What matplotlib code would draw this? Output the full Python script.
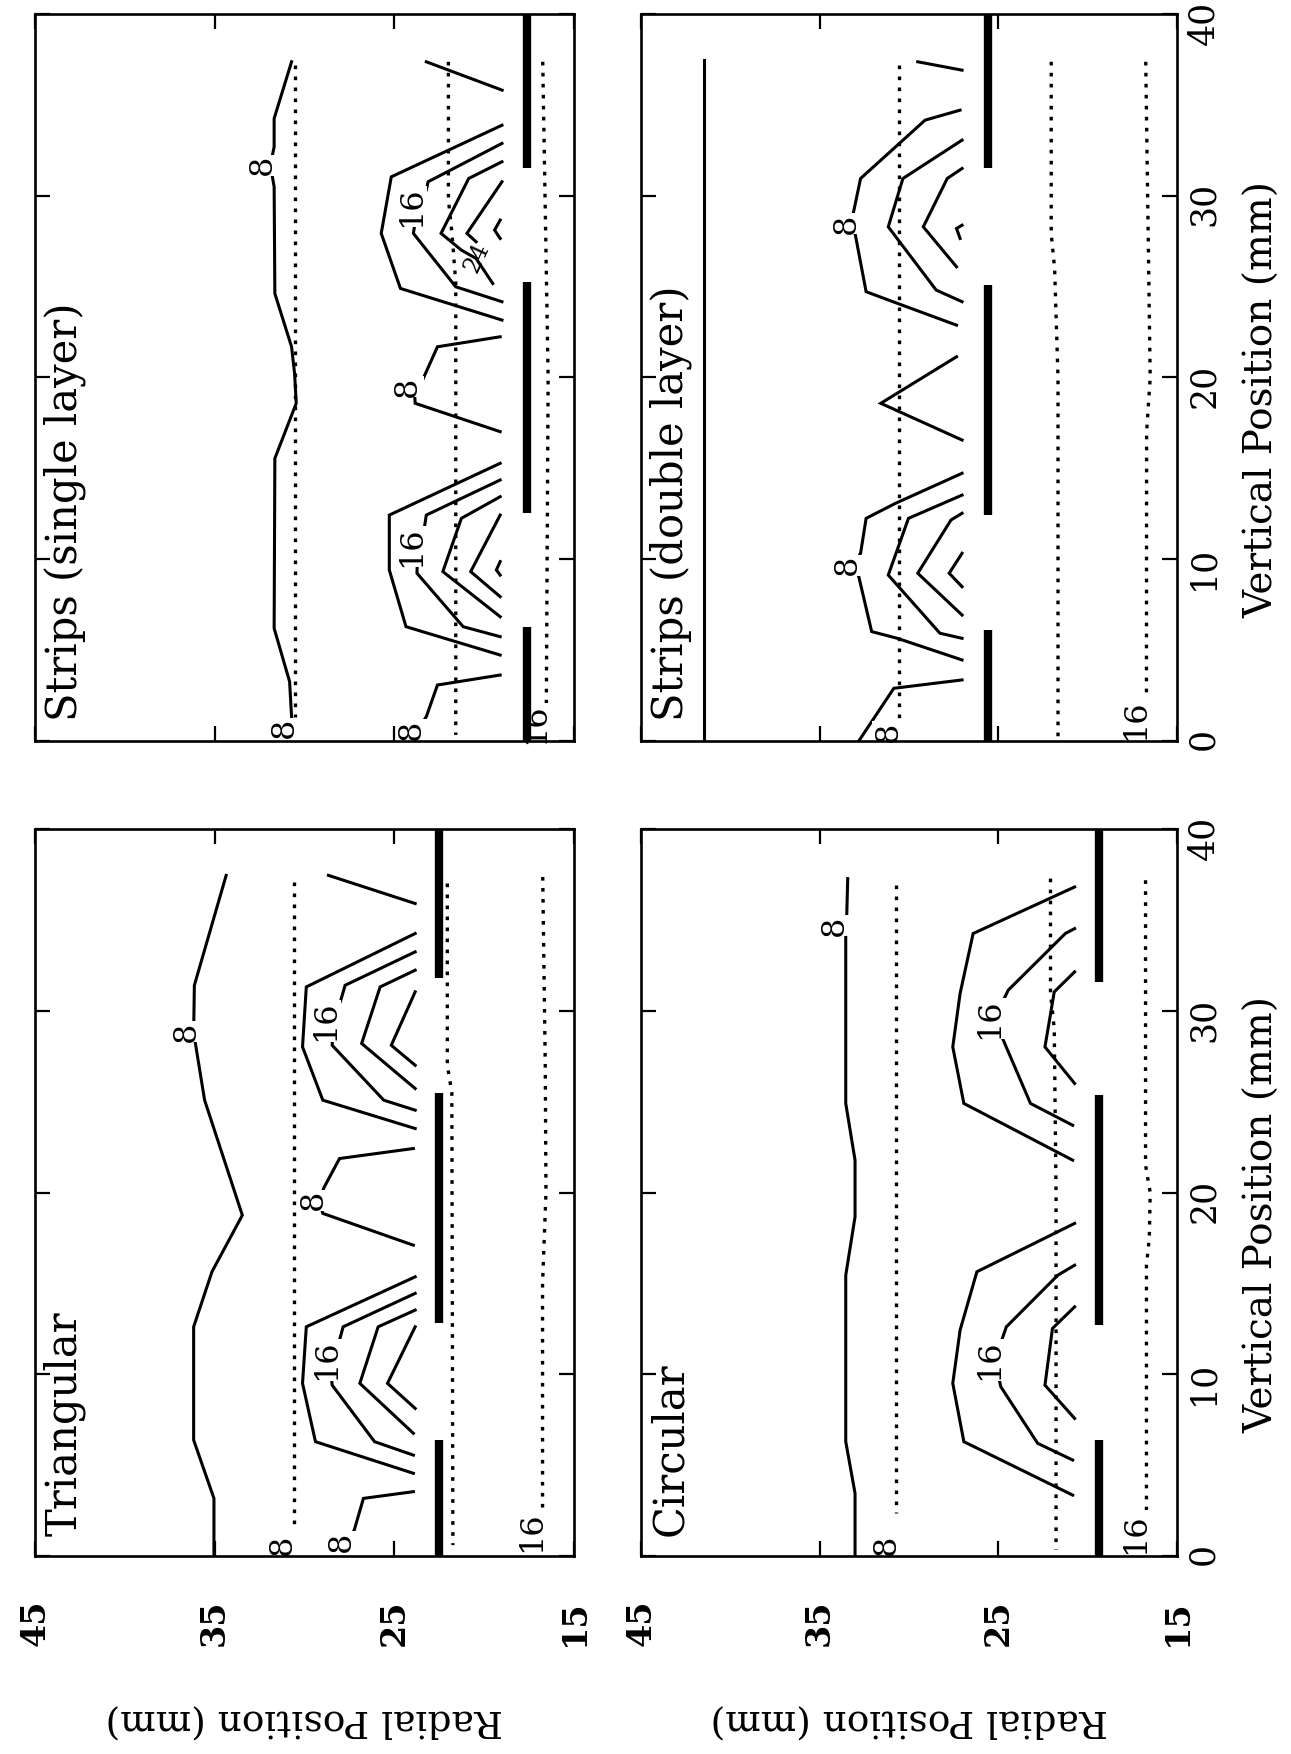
import matplotlib
matplotlib.use("Agg")
import matplotlib.pyplot as plt

plt.rcParams['font.family'] = ['DejaVu Serif']

# ---------------- data (vertical mm, radial mm) ----------------
RADIAL_TICKS = [45, 35, 25, 15]
VERTICAL_TICKS = [0, 10, 20, 30, 40]
RADIAL_LABEL = "Radial Position (mm)"
VERTICAL_LABEL = "Vertical Position (mm)"

# Triangular
TRI_TITLE = "Triangular"
TRI_SOLID = [
    [(37.45, 34.36), (31.4, 36.13), (28.8, 36.17), (25.08, 35.56), (18.75, 33.46), (15.64, 35.15),
     (12.61, 36.17), (6.38, 36.17), (3.17, 35.04), (0.0, 35.04)],
    [(37.45, 28.67), (35.9, 23.84)],
    [(34.25, 23.84), (31.31, 29.9), (28.01, 30.11), (25.08, 28.98), (23.52, 23.84)],
    [(33.24, 23.84), (31.4, 27.74), (30.58, 27.98), (29.44, 28.4), (28.1, 28.46), (25.08, 25.59), (24.53, 23.84)],
    [(32.23, 23.84), (31.31, 25.79), (28.2, 26.82), (25.72, 23.84)],
    [(31.04, 23.84), (28.1, 25.17), (27.0, 23.84)],
    [(22.42, 23.94), (21.87, 28.05), (20.3, 28.9), (19.58, 29.2), (18.85, 28.98), (17.1, 23.94)],
    [(15.36, 23.84), (12.61, 29.9), (9.5, 30.11), (6.29, 29.39), (4.55, 23.94)],
    [(14.45, 23.84), (12.61, 27.85), (11.88, 28.05), (10.78, 28.6), (9.4, 28.46), (6.29, 26.1), (5.55, 23.94)],
    [(13.53, 23.84), (12.61, 25.9), (9.5, 26.92), (6.75, 23.94)],
    [(12.61, 23.84), (9.5, 25.38), (8.12, 23.84)],
    [(3.54, 23.94), (3.17, 26.72), (1.43, 27.23), (0.8, 27.6)],
]
TRI_DOTTED = [
    [(37.09, 30.58), (1.43, 30.58)],
    [(37.0, 22.05), (27.0, 22.05), (25.5, 21.8), (0.6, 21.74)],
    [(37.36, 16.74), (27.0, 16.6), (20.0, 16.56), (15.0, 16.75), (2.62, 16.75)],
]
TRI_BAR_R = 22.5
TRI_BARS = [(31.8, 40.0), (12.8, 25.45), (0.0, 6.4)]
TRI_LABELS = [("8", 28.84, 36.6), ("16", 29.44, 28.83), ("8", 19.58, 29.5),
              ("16", 10.78, 28.77), ("8", 0.8, 27.95), ("8", 0.6, 31.24), ("16", 1.34, 17.36)]

# Circular
CIR_TITLE = "Circular"
CIR_SOLID = [
    [(37.27, 33.43), (34.7, 33.5), (34.15, 33.54), (24.9, 33.54), (21.78, 33.02), (18.66, 33.02),
     (15.45, 33.54), (6.29, 33.54), (3.45, 33.02), (0.0, 33.02)],
    [(36.81, 20.73), (34.25, 26.41), (30.95, 27.14), (28.01, 27.55), (24.9, 26.93), (21.78, 20.84)],
    [(34.52, 20.73), (34.25, 21.25), (31.13, 24.45), (29.57, 25.2), (28.47, 24.76), (24.9, 23.2), (23.7, 20.84)],
    [(32.14, 20.73), (31.04, 21.87), (28.01, 22.39), (26.0, 20.73)],
    [(18.3, 20.73), (15.64, 26.2), (12.43, 27.14), (9.5, 27.55), (6.29, 26.93), (3.35, 20.84)],
    [(16.0, 20.73), (15.45, 21.67), (12.61, 24.55), (10.78, 25.2), (9.31, 24.86), (6.2, 22.8), (5.28, 20.84)],
    [(13.71, 20.73), (12.52, 21.97), (9.4, 22.39), (7.57, 20.73)],
]
CIR_DOTTED = [
    [(36.9, 30.71), (2.35, 30.71)],
    [(37.27, 22.08), (31.0, 22.08), (29.0, 21.87), (20.0, 21.77), (0.33, 21.77)],
    [(37.18, 16.76), (21.5, 16.76), (20.0, 16.5), (17.5, 16.55), (16.0, 16.71), (2.53, 16.71)],
]
CIR_BAR_R = 19.39
CIR_BARS = [(31.59, 40.0), (12.7, 25.35), (0.0, 6.38)]
CIR_LABELS = [("8", 34.7, 34.16), ("16", 29.57, 25.48), ("16", 10.78, 25.48),
              ("8", 0.6, 31.27), ("16", 1.25, 17.33)]

# Strips (single layer)
SGL_TITLE = "Strips (single layer)"
SGL_SOLID = [
    [(37.37, 30.72), (34.25, 31.69), (32.69, 31.69), (31.68, 31.9), (30.49, 31.69), (24.62, 31.65),
     (21.69, 30.72), (20.2, 30.55), (18.58, 30.46), (15.55, 31.65), (6.2, 31.69), (3.27, 30.83), (1.34, 30.72)],
    [(37.37, 23.22), (35.81, 19.0)],
    [(33.88, 19.01), (31.04, 25.17), (27.93, 25.73), (24.9, 24.66), (23.16, 19.01)],
    [(32.88, 19.01), (30.77, 23.12), (30.31, 23.22), (29.39, 23.7), (27.93, 23.94), (24.99, 21.58), (24.17, 19.01)],
    [(31.87, 19.01), (30.95, 20.86), (27.93, 22.4), (27.01, 21.27), (26.55, 20.45), (25.17, 19.52)],
    [(30.77, 19.01), (27.93, 20.96), (27.47, 20.45)],
    [(28.66, 19.11), (28.11, 19.42), (27.65, 19.11)],
    [(22.24, 19.11), (21.69, 22.6), (19.86, 23.43), (19.5, 23.9), (18.58, 23.84), (17.02, 19.11)],
    [(15.28, 19.11), (12.43, 25.28), (9.41, 25.28), (6.29, 24.35), (4.73, 19.11)],
    [(14.36, 19.11), (12.43, 23.22), (11.79, 23.32), (10.69, 23.7), (9.23, 23.74), (6.29, 21.17), (5.74, 19.11)],
    [(13.44, 19.11), (12.25, 21.27), (9.32, 22.3), (6.84, 19.11)],
    [(12.43, 19.11), (9.32, 20.75), (7.94, 19.11)],
    [(9.87, 19.11), (9.41, 19.32), (9.13, 19.11)],
    [(3.63, 19.11), (3.08, 22.6), (1.34, 23.22), (0.61, 23.7)],
]
SGL_DOTTED = [
    [(37.18, 30.52), (1.3, 30.52)],
    [(37.37, 21.99), (29.8, 21.99), (27.9, 21.79), (25.2, 21.58), (0.33, 21.58)],
    [(37.37, 16.74), (20.0, 16.44), (2.0, 16.54)],
]
SGL_BAR_R = 17.63
SGL_BARS = [(31.5, 40.0), (12.53, 25.27), (0.0, 6.29)]
SGL_LABELS = [("8", 31.68, 32.37), ("16", 29.39, 24.04), ("8", 19.5, 24.25), ("16", 10.69, 24.04),
              ("8", 0.61, 24.04), ("8", 0.7, 31.1), ("16", 0.98, 17.16)]
SGL_TILTED_LABEL = ("24", 26.6, 20.4)

# Strips (double layer)
DBL_TITLE = "Strips (double layer)"
DBL_SOLID = [
    [(37.46, 41.49), (0.0, 41.49)],
    [(37.37, 29.51), (36.91, 27.03)],
    [(34.71, 27.14), (34.16, 29.1), (32.78, 30.65), (30.95, 32.71), (29.03, 33.12), (28.48, 33.3),
     (27.93, 33.02), (24.72, 32.4), (24.08, 30.65), (22.88, 27.34)],
    [(33.06, 27.03), (30.95, 30.34), (28.29, 31.16), (24.81, 28.48), (24.17, 27.03)],
    [(31.5, 27.03), (30.95, 27.86), (28.29, 29.2), (26.09, 27.34)],
    [(28.38, 27.03), (28.2, 27.34), (27.65, 27.14)],
    [(21.14, 27.34), (18.58, 31.58), (16.56, 27.03)],
    [(14.73, 27.03), (13.08, 30.75), (12.25, 32.4), (10.33, 32.71), (9.68, 33.1), (9.04, 32.81),
     (6.02, 32.09), (5.65, 30.65), (4.46, 27.03)],
    [(13.53, 27.03), (12.25, 30.03), (9.13, 31.16), (5.93, 28.27), (5.65, 27.03)],
    [(12.53, 27.03), (12.16, 27.65), (9.23, 29.51), (6.93, 27.03)],
    [(10.33, 27.03), (9.23, 27.75), (8.49, 27.03)],
    [(3.36, 27.03), (2.9, 30.85), (0.0, 32.81)],
]
DBL_DOTTED = [
    [(37.18, 30.54), (1.16, 30.54)],
    [(37.37, 22.04), (27.9, 22.04), (26.0, 21.85), (20.0, 21.66), (0.0, 21.66)],
    [(37.37, 16.75), (20.0, 16.5), (17.0, 16.7), (2.53, 16.71)],
]
DBL_BAR_R = 25.59
DBL_BARS = [(31.5, 40.0), (12.43, 25.08), (0.0, 6.11)]
DBL_LABELS = [("8", 28.48, 33.5), ("8", 9.68, 33.43), ("8", 0.52, 31.16), ("16", 1.16, 17.33)]

# ---------------- figure ----------------
W, H = 1291, 1754
fig = plt.figure(figsize=(W / 100, H / 100), dpi=100)


def px_axes(x0, x1, y0, y1):
    return fig.add_axes([x0 / W, 1 - y1 / H, (x1 - x0) / W, (y1 - y0) / H])


LW_SOLID = 2.2
LW_DOT = 2.4
LAB_FS = 23


def draw_panel(ax, solids, dotted, bars, bar_r, labels, title, show_radial, show_vertical):
    for line in solids:
        v, r = zip(*line)
        ax.plot(r, v, color='black', lw=LW_SOLID, zorder=2, solid_joinstyle='miter')
    for line in dotted:
        v, r = zip(*line)
        ax.plot(r, v, color='black', lw=LW_DOT, linestyle=(0, (1.1, 2.2)), zorder=2)
    for txt, v, r in labels:
        ax.text(r, v, txt, rotation=90, ha='center', va='center', fontsize=LAB_FS,
                bbox=dict(facecolor='white', edgecolor='none', pad=0.3), zorder=3)
    for v0, v1 in bars:
        ax.plot([bar_r, bar_r], [v0, v1], color='black', lw=6.0, solid_capstyle='butt', zorder=4)
    ax.set_xlim(45, 15)
    ax.set_ylim(0, 40)
    ax.set_xticks(RADIAL_TICKS)
    ax.set_yticks(VERTICAL_TICKS)
    ax.tick_params(direction='in', length=11, width=1.6, top=True, right=True, left=True, bottom=True,
                   labelbottom=show_radial, labelleft=False, labelright=show_vertical, labeltop=False)
    ax.tick_params(axis='x', labelrotation=90, pad=31, labelsize=24)
    ax.tick_params(axis='y', labelrotation=90, pad=7, labelsize=25)
    for lab in ax.get_xticklabels():
        lab.set_fontweight('bold')
    for sp in ax.spines.values():
        sp.set_linewidth(1.9)
        sp.set_zorder(5)
    ax.text(0.016, 0.027, title, transform=ax.transAxes, rotation=90, ha='left', va='bottom',
            fontsize=30, zorder=6)
    if show_radial:
        ax.set_xlabel(RADIAL_LABEL, rotation=180, fontsize=27, va='center', ha='center')
        ax.xaxis.set_label_coords(0.5, -0.225)
    if show_vertical:
        ax.yaxis.set_label_position('right')
        ax.set_ylabel(VERTICAL_LABEL, rotation=90, fontsize=28, va='center', ha='center')
        ax.yaxis.set_label_coords(1.16, 0.47)


ax_sgl = px_axes(35, 574, 14, 741)
ax_dbl = px_axes(641, 1177, 14, 741)
ax_tri = px_axes(35, 574, 829, 1556)
ax_cir = px_axes(641, 1177, 829, 1556)

draw_panel(ax_tri, TRI_SOLID, TRI_DOTTED, TRI_BARS, TRI_BAR_R, TRI_LABELS, TRI_TITLE, True, False)
draw_panel(ax_cir, CIR_SOLID, CIR_DOTTED, CIR_BARS, CIR_BAR_R, CIR_LABELS, CIR_TITLE, True, True)
draw_panel(ax_sgl, SGL_SOLID, SGL_DOTTED, SGL_BARS, SGL_BAR_R, SGL_LABELS, SGL_TITLE, False, False)
draw_panel(ax_dbl, DBL_SOLID, DBL_DOTTED, DBL_BARS, DBL_BAR_R, DBL_LABELS, DBL_TITLE, False, True)

t, tv, tr = SGL_TILTED_LABEL
ax_sgl.text(tr, tv, t, rotation=65, ha='center', va='center', fontsize=17, zorder=3)

fig.savefig('out.png', dpi=100)
